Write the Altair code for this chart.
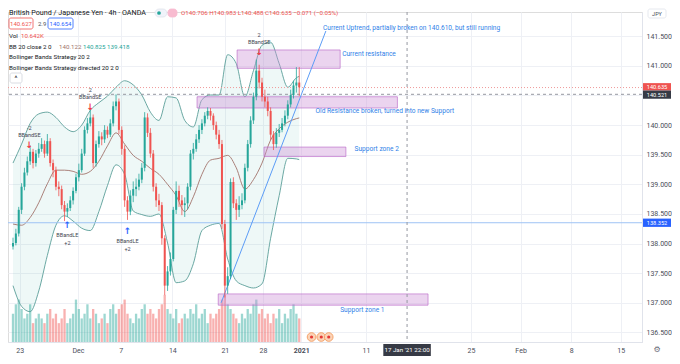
import altair as alt
import pandas as pd

FONT = "Roboto"
DARK = "#131722"
UP, DOWN = "#26a69a", "#ef5350"
W, H = 634, 330
X_MAX = 218
Y_MIN, Y_MAX = 136.338, 141.911

# ---------------- candles (4h GBP/JPY) ----------------
first_open = 137.95
close = [138.01, 138.17, 138.57, 138.96, 139.20, 139.39, 139.55, 139.36, 139.52, 139.60,
         139.68, 139.52, 139.73, 139.36, 139.24, 138.96, 138.92, 138.65, 138.54, 138.60,
         138.73, 138.89, 139.12, 139.24, 139.52, 139.92, 140.03, 140.13, 139.36, 139.68,
         139.81, 139.76, 139.92, 139.84, 140.03, 140.32, 140.40, 139.92, 139.60, 138.73,
         138.54, 138.81, 138.92, 138.96, 139.08, 139.28, 140.13, 139.87, 139.52, 138.96,
         138.73, 138.65, 138.09, 137.29, 137.53, 137.74, 138.57, 138.89, 138.73, 138.65,
         138.68, 138.96, 139.52, 139.60, 139.76, 139.92, 140.03, 140.16, 140.24, 140.16,
         140.00, 139.84, 139.68, 138.33, 137.29, 137.45, 139.04, 138.68, 138.57, 138.65,
         138.73, 139.28, 139.68, 140.08, 140.48, 140.92, 140.72, 140.48, 140.40, 140.24,
         139.84, 139.68, 139.87, 139.92, 140.03, 140.16, 140.35, 140.51, 140.67, 140.72,
         140.64]
high = [138.10, 138.25, 138.62, 139.02, 139.28, 139.47, 139.66, 139.60, 139.58, 139.70,
        139.78, 139.74, 139.85, 139.78, 139.42, 139.30, 139.05, 138.98, 138.72, 138.68,
        138.80, 138.95, 139.18, 139.35, 139.60, 139.98, 140.12, 140.28, 140.18, 139.74,
        139.90, 139.88, 140.00, 139.98, 140.10, 140.40, 140.52, 140.45, 139.98, 139.66,
        138.80, 138.90, 139.05, 139.10, 139.18, 139.36, 140.22, 140.20, 139.95, 139.58,
        139.02, 138.84, 138.70, 138.14, 137.62, 137.85, 138.62, 139.05, 138.98, 138.82,
        138.78, 139.02, 139.58, 139.70, 139.85, 140.00, 140.10, 140.22, 140.30, 140.29,
        140.20, 140.06, 139.92, 139.75, 138.40, 137.60, 139.10, 139.12, 138.75, 138.80,
        138.85, 139.35, 139.75, 140.15, 140.55, 141.11, 141.02, 140.80, 140.60, 140.48,
        140.30, 139.90, 139.95, 140.02, 140.12, 140.25, 140.42, 140.60, 140.75, 140.98,
        140.98]
low = [137.90, 137.97, 138.12, 138.50, 138.90, 139.15, 139.33, 139.27, 139.30, 139.45,
       139.55, 139.45, 139.48, 139.30, 139.12, 138.90, 138.80, 138.58, 138.38, 138.45,
       138.55, 138.66, 138.85, 139.05, 139.20, 139.48, 139.86, 139.98, 139.28, 139.30,
       139.62, 139.66, 139.70, 139.78, 139.80, 139.98, 140.25, 139.85, 139.50, 138.62,
       138.40, 138.48, 138.70, 138.80, 138.90, 139.02, 139.22, 139.80, 139.45, 138.88,
       138.62, 138.55, 137.98, 137.13, 137.20, 137.46, 137.70, 138.50, 138.62, 138.48,
       138.45, 138.58, 138.90, 139.42, 139.55, 139.70, 139.85, 139.98, 140.10, 140.08,
       139.92, 139.76, 139.60, 138.25, 137.09, 137.15, 137.40, 138.60, 138.40, 138.45,
       138.58, 138.68, 139.22, 139.62, 140.02, 140.42, 140.62, 140.40, 140.30, 140.15,
       139.75, 139.58, 139.62, 139.80, 139.88, 139.98, 140.10, 140.30, 140.45, 140.55,
       140.49]
volume = [6, 8, 9, 7, 5, 6, 8, 4, 5, 6, 5, 4, 6, 7, 5, 6, 4, 5, 7, 4,
          5, 6, 9, 7, 5, 6, 8, 5, 7, 6, 4, 5, 6, 4, 7, 8, 6, 7, 8, 9,
          6, 5, 4, 6, 5, 7, 8, 6, 7, 6, 5, 7, 8, 10, 7, 6, 5, 7, 4, 5,
          6, 5, 7, 6, 8, 5, 6, 7, 4, 6, 5, 6, 7, 9, 10, 8, 7, 6, 5, 4,
          6, 5, 7, 6, 8, 9, 6, 7, 5, 6, 4, 6, 5, 7, 4, 6, 5, 7, 8, 6, 5]

# ---------------- Bollinger bands (20, 2) read at knots ----------------
band_k = [0, 3, 6, 9, 12, 15, 18, 21, 24, 27, 30, 33, 36, 39, 42, 45, 48, 51, 54, 57,
          60, 63, 66, 69, 72, 75, 78, 81, 84, 87, 90, 93, 96, 99, 100]
band_upper = [139.36, 139.68, 140.03, 140.19, 140.22, 140.13, 139.97, 139.89, 140.00, 140.25,
              140.38, 140.49, 140.64, 140.75, 140.68, 140.51, 140.22, 140.08, 140.48, 140.46,
              140.08, 139.97, 140.43, 140.51, 140.51, 141.19, 141.04, 140.48, 140.92, 141.35,
              141.40, 141.04, 140.64, 140.80, 140.825]
band_mid = [138.33, 138.31, 138.44, 138.69, 139.01, 139.24, 139.24, 139.22, 139.17, 139.22,
            139.39, 139.65, 139.87, 139.68, 139.49, 139.39, 139.27, 139.17, 139.00, 138.81,
            138.54, 138.79, 139.17, 139.41, 139.44, 139.49, 139.28, 138.92, 139.08, 139.36,
            139.75, 139.94, 140.05, 140.11, 140.122]
band_lower = [137.29, 136.94, 136.85, 137.20, 137.80, 138.31, 138.47, 138.38, 138.26, 138.22,
              138.54, 138.98, 139.33, 139.17, 138.55, 138.49, 138.46, 138.50, 138.01, 137.34,
              137.37, 137.66, 138.22, 138.31, 138.34, 137.74, 137.37, 137.29, 137.25, 137.32,
              138.09, 138.81, 139.44, 139.43, 139.418]

# ---------------- strategy signals ----------------
se_k = [5.7, 27.0, 86.0]
se_p = [139.67, 140.30, 141.23]
se_num = ["-2", "2", "2"]
le_k = [19.0, 40.0]
le_p = [138.31, 138.22]
le_num = ["+2", "+2"]

# ---------------- zones & annotations ----------------
zone_names = ["Current resistance", "Old resistance", "Support zone 2", "Support zone 1"]
zone_k0 = [78.3, 64.3, 87.7, 71.7]
zone_k1 = [114.3, 134.3, 116.3, 145.0]
zone_top = [141.27, 140.48, 139.63, 137.15]
zone_bot = [140.96, 140.29, 139.47, 136.96]

note_text = ["Current Uptrend, partially broken on 140.610, but still running",
             "Current resistance",
             "Old Resistance broken, turned into new Support",
             "Support zone 2",
             "Support zone 1"]
note_k = [108.3, 115.0, 105.7, 119.3, 114.3]
note_p = [141.64, 141.21, 140.24, 139.60, 136.88]

trend_k = [72.7, 109.3]
trend_p = [137.00, 141.59]

last_price = 140.635
cross_price = 140.521
cross_k = 137.67
hline_price = 138.352

event_k = [104.3, 107.7, 110.3]

tick_k = [2.33, 22.67, 37.67, 55.67, 74.0, 87.33, 100.67, 123.33, 160.0, 177.33, 195.0, 212.33]
tick_lab = ["23", "Dec", "7", "14", "21", "28", "2021", "11", "25", "Feb", "8", "15"]
price_ticks = [136.5, 137.0, 137.5, 138.0, 138.5, 139.0, 139.5, 140.0, 141.0, 141.5]
hidden_tick = 140.5   # grid line whose label sits under the price tags

# ---------------- frames ----------------
opens = [first_open] + close[:-1]
cdf = pd.DataFrame({"i": list(range(len(close))), "open": opens, "high": high,
                    "low": low, "close": close, "vol": volume})
cdf["dir"] = ["up" if c >= o else "down" for o, c in zip(opens, close)]
bdf = pd.DataFrame({"k": band_k, "upper": band_upper, "mid": band_mid, "lower": band_lower})

xscale = alt.Scale(domain=[0, X_MAX], nice=False, zero=False)
yscale = alt.Scale(domain=[Y_MIN, Y_MAX], nice=False, zero=False)
label_expr = " : ".join(f"abs(datum.value - {v}) < 0.01 ? '{l}'" for v, l in zip(tick_k, tick_lab)) + " : ''"
xaxis = alt.Axis(values=tick_k, labelExpr=label_expr, title=None, grid=True, gridColor="#eef0f5",
                 domainColor="#e0e3eb", ticks=False, labelFontSize=7, labelColor="#4a4e59",
                 labelFont=FONT, labelPadding=4,
                 labelFontWeight={"condition": {"test": "abs(datum.value - 100.67) < 0.01", "value": "bold"},
                                  "value": "normal"})
yaxis = alt.Axis(values=price_ticks, format=".3f", orient="right", title=None, grid=True,
                 gridColor="#eef0f5", domainColor="#e0e3eb", ticks=False, labelFontSize=7,
                 labelColor="#4a4e59", labelFont=FONT, labelPadding=4)


def X(f):
    return alt.X(f"{f}:Q", scale=xscale, axis=xaxis)


def Y(f):
    return alt.Y(f"{f}:Q", scale=yscale, axis=yaxis)


color = alt.Color("dir:N", scale=alt.Scale(domain=["up", "down"], range=[UP, DOWN]), legend=None)

base = alt.Chart(cdf)
wicks = base.mark_rule(strokeWidth=0.8).encode(x=X("i"), y=Y("low"), y2="high", color=color)
bodies = base.mark_bar(size=2).encode(x=X("i"), y=Y("open"), y2="close", color=color)
vol = base.mark_bar(size=2.3, opacity=0.45).encode(
    x=X("i"), y=alt.Y("vol:Q", scale=alt.Scale(domain=[0, 70]), axis=None), color=color)

grid_extra = alt.Chart(pd.DataFrame({"p": [hidden_tick]})).mark_rule(
    color="#eef0f5", strokeWidth=1).encode(y=Y("p"))

bb = alt.Chart(bdf)
bb_fill = bb.mark_area(color=UP, opacity=0.08, interpolate="monotone").encode(x=X("k"), y=Y("upper"), y2="lower")
bb_up = bb.mark_line(color="#5a9e98", strokeWidth=0.9, interpolate="monotone").encode(x=X("k"), y=Y("upper"))
bb_lo = bb.mark_line(color="#5a9e98", strokeWidth=0.9, interpolate="monotone").encode(x=X("k"), y=Y("lower"))
bb_mid = bb.mark_line(color="#a1736b", strokeWidth=0.9, interpolate="monotone").encode(x=X("k"), y=Y("mid"))

zdf = pd.DataFrame({"n": zone_names, "k0": zone_k0, "k1": zone_k1, "top": zone_top, "bot": zone_bot})
zones = alt.Chart(zdf).mark_rect(fill="#ce93d8", fillOpacity=0.4, stroke="#ba68c8",
                                 strokeWidth=0.8, strokeOpacity=0.8).encode(
    x=X("k0"), x2="k1", y=Y("top"), y2="bot")

ndf = pd.DataFrame({"t": note_text, "k": note_k, "p": note_p})
notes = alt.Chart(ndf).mark_text(align="left", baseline="middle", fontSize=6.6, color="#2f7fe8",
                                 font=FONT).encode(x=X("k"), y=Y("p"), text="t:N")

tdf = pd.DataFrame({"k": trend_k, "p": trend_p})
trend = alt.Chart(tdf).mark_line(color="#5b9cf6", strokeWidth=1).encode(x=X("k"), y=Y("p"))

hl = alt.Chart(pd.DataFrame({"p": [hline_price]})).mark_rule(color="#9fc3f5", strokeWidth=1).encode(y=Y("p"))
lastl = alt.Chart(pd.DataFrame({"p": [last_price]})).mark_rule(
    color="#ef9a9a", strokeWidth=1, strokeDash=[1, 2]).encode(y=Y("p"))
crossh = alt.Chart(pd.DataFrame({"p": [cross_price]})).mark_rule(
    color="#9598a1", strokeWidth=1, strokeDash=[3, 3]).encode(y=Y("p"))
crossv = alt.Chart(pd.DataFrame({"k": [cross_k]})).mark_rule(
    color="#9598a1", strokeWidth=1, strokeDash=[3, 3]).encode(x=X("k"))

# signals
sedf = pd.DataFrame({"k": se_k, "p": se_p, "n": se_num})
ledf = pd.DataFrame({"k": le_k, "p": le_p, "n": le_num})
se_arrow = alt.Chart(sedf).mark_text(text="↓", fontSize=9, color="#f23645", font="DejaVu Sans",
                                     fontWeight="bold", baseline="middle").encode(x=X("k"), y=Y("p"))
se_lab = alt.Chart(sedf).mark_text(text="BBandSE", fontSize=5.5, color="#434651", font=FONT,
                                   baseline="middle", dy=-10).encode(x=X("k"), y=Y("p"))
se_num_t = alt.Chart(sedf).mark_text(fontSize=5.5, color="#434651", font=FONT,
                                     baseline="middle", dy=-17).encode(x=X("k"), y=Y("p"), text="n:N")
le_arrow = alt.Chart(ledf).mark_text(text="↑", fontSize=9, color="#2962ff", font="DejaVu Sans",
                                     fontWeight="bold", baseline="middle").encode(x=X("k"), y=Y("p"))
le_lab = alt.Chart(ledf).mark_text(text="BBandLE", fontSize=5.5, color="#434651", font=FONT,
                                   baseline="middle", dy=10).encode(x=X("k"), y=Y("p"))
le_num_t = alt.Chart(ledf).mark_text(fontSize=5.5, color="#434651", font=FONT,
                                     baseline="middle", dy=18).encode(x=X("k"), y=Y("p"), text="n:N")

# event icons near the bottom
edf = pd.DataFrame({"k": event_k})
ev1 = alt.Chart(edf).mark_point(shape="circle", filled=True, size=75, color="#fbd3b6",
                                stroke="#f5a36b", strokeWidth=1, opacity=1).encode(
    x=X("k"), y=alt.value(H - 5))
ev2 = alt.Chart(edf).mark_point(shape="circle", filled=True, size=10, color="#e53935", opacity=1).encode(
    x=X("k"), y=alt.value(H - 5))

# crosshair date box
cdate = alt.Chart(pd.DataFrame({"k": [cross_k]})).transform_calculate(
    a="datum.k - 8.3", b="datum.k + 8.3")
cbox = cdate.mark_rect(color="#363a45").encode(x=X("a"), x2="b", y=alt.value(H + 2), y2=alt.value(H + 14))
ctxt = cdate.mark_text(text="17 Jan '21   22:00", color="white", fontSize=6.2, font=FONT,
                       baseline="middle").encode(x=X("k"), y=alt.value(H + 8))


def tag(p, bg, txt, lo_off, hi_off, dy=0):
    d = alt.Chart(pd.DataFrame({"p": [p]})).transform_calculate(
        lo=f"datum.p - {lo_off}", hi=f"datum.p + {hi_off}")
    r = d.mark_rect(color=bg).encode(x=alt.value(W + 1), x2=alt.value(W + 29), y=Y("lo"), y2="hi")
    t = d.mark_text(text=txt, color="white", fontSize=5.6, font=FONT, baseline="middle", dy=dy).encode(
        x=alt.value(W + 15), y=Y("p"))
    return [r, t]


def label(s, x, y, col=DARK, size=7, align="left", weight="normal", font=FONT):
    return alt.Chart(pd.DataFrame({"t": [s]})).mark_text(
        align=align, baseline="middle", fontSize=size, color=col, font=font, fontWeight=weight).encode(
        x=alt.value(x), y=alt.value(y), text="t:N")


def box(x0, x1, y0, y1, stroke, fill="white", sw=0.8, r=2):
    return alt.Chart(pd.DataFrame({"a": [0]})).mark_rect(
        fill=fill, stroke=stroke, strokeWidth=sw, cornerRadius=r).encode(
        x=alt.value(x0), x2=alt.value(x1), y=alt.value(y0), y2=alt.value(y1))


header = [
    label("British Pound / Japanese Yen · 4h · OANDA", 1, 1, size=7.2),
    box(147, 159, -3, 5, "#e0e3eb", fill="#f0f3fa", r=4),
    alt.Chart(pd.DataFrame({"a": [0]})).mark_point(filled=True, size=14, color=UP, opacity=1).encode(
        x=alt.value(151), y=alt.value(1)),
    box(160, 169, -3, 5, "#f8bbd0", fill="#f8bbd0", r=3),
    label("O140.706 H140.983 L140.488 C140.635 −0.071 (−0.05%)", 173, 1, col="#ef5350", size=6.2),
    box(1, 25, 6, 17, "#ef5350"),
    label("140.627", 13, 11.5, col="#ef5350", size=6, align="center"),
    label("2.9", 30, 11.5, col="#4a4e59", size=6, align="left"),
    box(40, 65, 6, 17, "#2962ff"),
    label("140.654", 52.5, 11.5, col="#2962ff", size=6, align="center"),
    label("Vol", 1, 24, size=6.2),
    label("10.642K", 13, 24, col="#ef5350", size=6.2),
    label("BB 20 close 2 0", 1, 35, size=6.2),
    label("140.122", 51, 35, col="#a1736b", size=6.2),
    label("140.825", 75, 35, col=UP, size=6.2),
    label("139.418", 99, 35, col=UP, size=6.2),
    label("Bollinger Bands Strategy 20 2", 1, 45, size=6.2),
    label("Bollinger Bands Strategy directed 20 2 0", 1, 56, size=6.2),
    box(2, 14, 61, 71, "#d1d4dc"),
    label("^", 8, 67, col="#131722", size=7, align="center"),
    box(W + 6, W + 24, -3, 6, "#e0e3eb"),
    label("JPY", W + 15, 1.5, col="#4a4e59", size=5.5, align="center"),
    label("⚙", W + 15, H + 8, col="#6a6d78", size=8, align="center", font="DejaVu Sans"),
]

price_layers = [grid_extra, bb_fill, bb_up, bb_lo, bb_mid, zones, hl, lastl, crossh, crossv, trend,
                wicks, bodies, se_arrow, se_lab, se_num_t, le_arrow, le_lab, le_num_t,
                notes, ev1, ev2, cbox, ctxt]
price_layers += tag(last_price, "#ef5350", "140.635", 0.05, 0.075, dy=-0.8)
price_layers += tag(cross_price, "#363a45", "140.521", 0.075, 0.064, dy=0.8)
price_layers += tag(hline_price, "#2962ff", "138.352", 0.07, 0.07)
price_layers += header

price = alt.layer(*price_layers)
chart = alt.layer(vol, price).resolve_scale(y="independent").properties(
    width=W, height=H, autosize="none",
    padding={"left": 0, "top": 4, "right": 30, "bottom": 14},
).configure_view(strokeWidth=0).configure(background="white")

chart.save("out.html", embed_options={"renderer": "svg", "actions": False})
